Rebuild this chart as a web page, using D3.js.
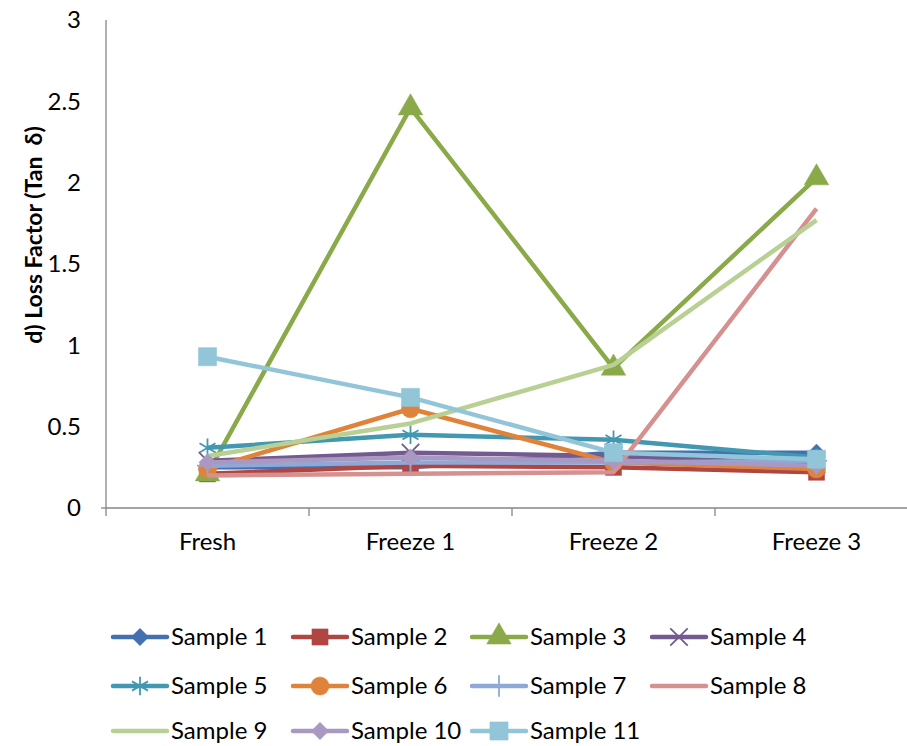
<!DOCTYPE html>
<html lang="en">
<head>
<meta charset="UTF-8">
<title>Loss Factor</title>
<style>
    body { margin: 0; background: #fff; }
    svg { display: block; font-family: Lato, "Open Sans", sans-serif; }
</style>
</head>
<body>
<div id="chart"></div>
<script src="https://cdn.jsdelivr.net/npm/d3@7"></script>
<script>
    // Data
    const categories = ['Fresh', 'Freeze 1', 'Freeze 2', 'Freeze 3'];
    const seriesNames = ['Sample 1', 'Sample 2', 'Sample 3', 'Sample 4', 'Sample 5', 'Sample 6',
        'Sample 7', 'Sample 8', 'Sample 9', 'Sample 10', 'Sample 11'];
    const sample1 = [0.25, 0.25, 0.34, 0.34];
    const sample2 = [0.21, 0.26, 0.25, 0.22];
    const sample3 = [0.21, 2.46, 0.86, 2.03];
    const sample4 = [0.29, 0.34, 0.32, 0.27];
    const sample5 = [0.37, 0.45, 0.42, 0.31];
    const sample6 = [0.24, 0.61, 0.28, 0.24];
    const sample7 = [0.26, 0.28, 0.28, 0.29];
    const sample8 = [0.20, 0.21, 0.22, 1.84];
    const sample9 = [0.32, 0.52, 0.88, 1.77];
    const sample10 = [0.28, 0.31, 0.29, 0.26];
    const sample11 = [0.93, 0.68, 0.34, 0.30];
    const yTicks = [0, 0.5, 1, 1.5, 2, 2.5, 3];

    const values = [sample1, sample2, sample3, sample4, sample5, sample6,
        sample7, sample8, sample9, sample10, sample11];
    const colors = ['#4371B0', '#B04642', '#8AAA4A', '#735A91', '#4198B0', '#E0833A',
        '#8FA8D6', '#D59090', '#B8D093', '#A898C2', '#92C5D8'];
    // marker: [symbol, size, filled]
    const markers = [
        [d3.symbolDiamond2, 190, true],
        [d3.symbolSquare, 260, true],
        [d3.symbolTriangle, 260, true],
        [d3.symbolTimes, 200, false],
        [d3.symbolAsterisk, 240, false],
        [d3.symbolCircle, 260, true],
        [d3.symbolPlus, 150, false],
        null,
        null,
        [d3.symbolDiamond2, 190, true],
        [d3.symbolSquare, 330, true]
    ];

    const width = 907, height = 746;
    const plotLeft = 106, plotRight = 918, plotTop = 20, plotBottom = 508;
    const fontSize = 24;

    const svg = d3.select('#chart').append('svg')
        .attr('width', width)
        .attr('height', height);

    const x = d3.scaleBand().domain(categories).range([plotLeft, plotRight]).padding(0);
    const y = d3.scaleLinear().domain([0, 3]).range([plotBottom, plotTop]);
    const cx = c => x(c) + x.bandwidth() / 2;

    // y axis
    svg.append('line')
        .attr('x1', plotLeft).attr('x2', plotLeft)
        .attr('y1', plotTop).attr('y2', plotBottom)
        .attr('stroke', '#868686').attr('stroke-width', 1.3);
    svg.append('line')
        .attr('x1', plotLeft - 5).attr('x2', plotLeft)
        .attr('y1', plotBottom).attr('y2', plotBottom)
        .attr('stroke', '#868686').attr('stroke-width', 1.3);
    svg.append('g')
        .selectAll('text')
        .data(yTicks)
        .join('text')
        .attr('x', 81)
        .attr('y', d => y(d))
        .attr('dy', '0.35em')
        .attr('text-anchor', 'end')
        .attr('font-size', fontSize)
        .attr('fill', '#000')
        .text(d => d);

    // x axis
    const xAxis = svg.append('g').attr('transform', `translate(0,${plotBottom})`);
    xAxis.append('line')
        .attr('x1', plotLeft).attr('x2', plotRight)
        .attr('stroke', '#868686').attr('stroke-width', 1.3);
    xAxis.selectAll('.tick')
        .data(categories.concat(['end']))
        .join('line')
        .attr('class', 'tick')
        .attr('x1', (d, i) => plotLeft + i * x.bandwidth())
        .attr('x2', (d, i) => plotLeft + i * x.bandwidth())
        .attr('y1', 0).attr('y2', 8)
        .attr('stroke', '#868686').attr('stroke-width', 1.3);
    xAxis.selectAll('text')
        .data(categories)
        .join('text')
        .attr('x', cx)
        .attr('y', 42)
        .attr('text-anchor', 'middle')
        .attr('font-size', fontSize)
        .attr('fill', '#000')
        .text(d => d);

    // y title
    svg.append('text')
        .attr('transform', 'translate(42,235) rotate(-90)')
        .attr('text-anchor', 'middle')
        .attr('font-size', 23)
        .attr('font-weight', 'bold')
        .attr('fill', '#000')
        .style('white-space', 'pre')
        .text('d) Loss Factor (Tan  δ)');

    function drawMarker(g, i, px, py) {
        const m = markers[i];
        if (!m) return;
        const path = d3.symbol(m[0], m[1])();
        g.append('path')
            .attr('d', path)
            .attr('transform', `translate(${px},${py})`)
            .attr('fill', m[2] ? colors[i] : 'none')
            .attr('stroke', colors[i])
            .attr('stroke-width', m[2] ? 0.5 : 1.8);
    }

    const line = d3.line().x((d, i) => cx(categories[i])).y(d => y(d));

    values.forEach((vals, i) => {
        const g = svg.append('g');
        g.append('path')
            .datum(vals)
            .attr('d', line)
            .attr('fill', 'none')
            .attr('stroke', colors[i])
            .attr('stroke-width', 4.5)
            .attr('stroke-linejoin', 'round');
        vals.forEach((v, j) => drawMarker(g, i, cx(categories[j]), y(v)));
    });

    // legend
    const legendCols = [113, 293, 472, 652];
    const legendRows = [637, 686, 731];
    seriesNames.forEach((name, i) => {
        const lx = legendCols[i % 4];
        const ly = legendRows[Math.floor(i / 4)];
        const g = svg.append('g');
        g.append('line')
            .attr('x1', lx).attr('x2', lx + 54)
            .attr('y1', ly).attr('y2', ly)
            .attr('stroke', colors[i])
            .attr('stroke-width', 4.5)
            .attr('stroke-linecap', 'round');
        drawMarker(g, i, lx + 27, ly);
        g.append('text')
            .attr('x', lx + 58)
            .attr('y', ly)
            .attr('dy', '0.35em')
            .attr('font-size', fontSize)
            .attr('fill', '#000')
            .text(name);
    });
</script>
</body>
</html>
